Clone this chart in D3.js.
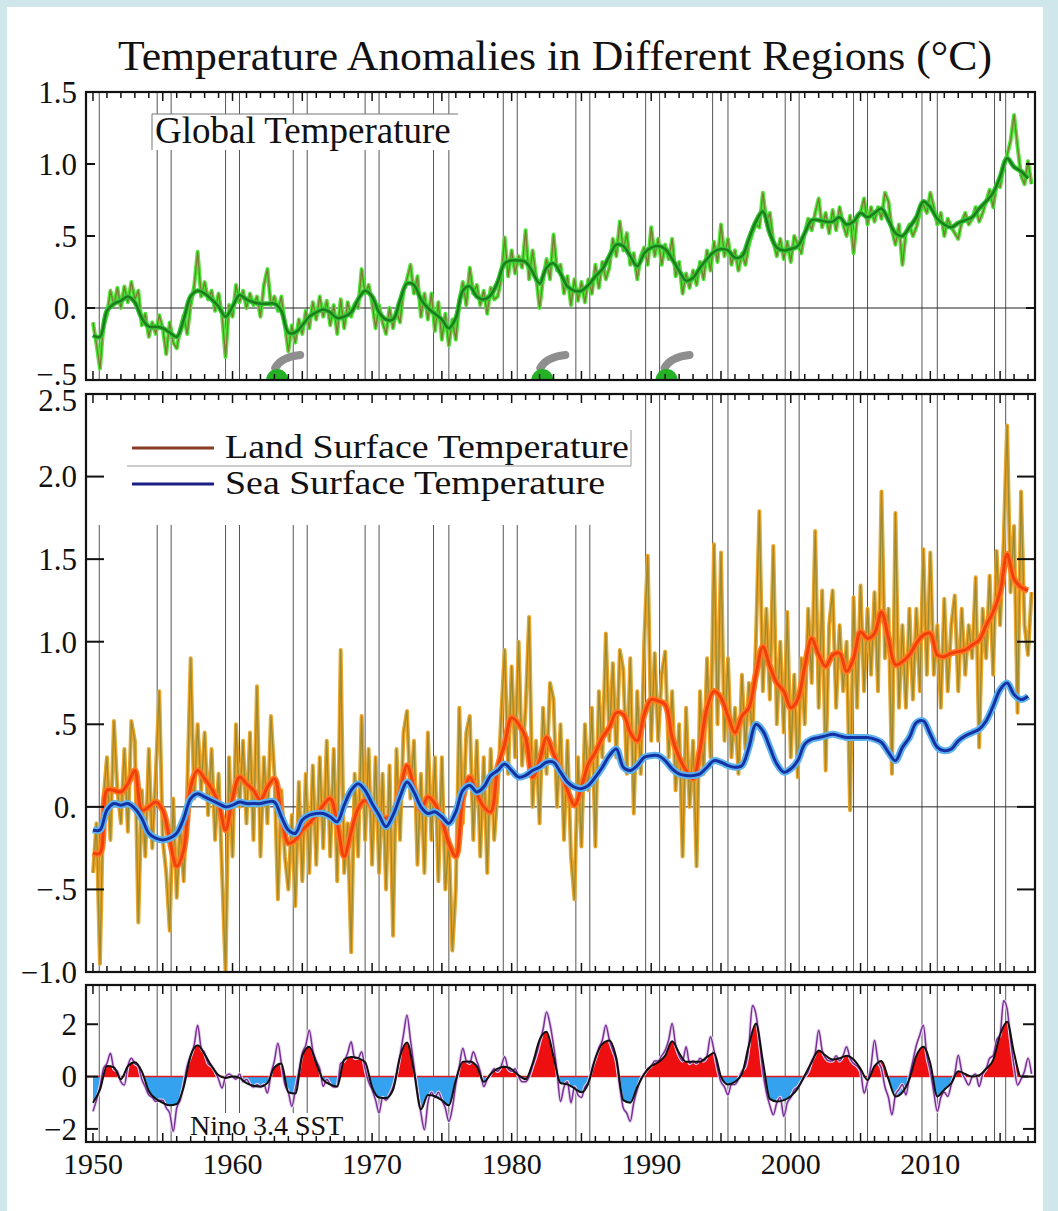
<!DOCTYPE html>
<html>
<head>
<meta charset="utf-8">
<script src="https://cdn.jsdelivr.net/npm/d3@7"></script>
<style>
  body { margin: 0; background: #cfe7ea; }
  svg { display: block; }
  text { font-family: "Liberation Serif", "Times New Roman", serif; fill: #111; }
</style>
</head>
<body>
<svg id="chart" width="1058" height="1211"></svg>
<script>
// ---- data ----
// global, quarterly (1950.00, 1950.25 ...)
var rawGlobal = [
 -0.10,-0.25,-0.42,-0.12,  -0.05,0.12,0.02,0.14,  0.00,0.15,0.04,0.18,  0.06,0.12,-0.12,-0.04,
 -0.20,-0.10,-0.18,-0.05,  -0.14,-0.32,-0.10,-0.24,  -0.28,-0.15,-0.05,-0.18,  0.02,0.15,0.39,0.08,
 0.18,0.06,0.12,-0.02,  0.10,-0.05,-0.34,0.02,  -0.06,0.16,0.04,0.12,  0.00,0.10,0.02,0.08,
 -0.06,0.16,0.27,0.02,  0.08,-0.02,0.08,-0.12,  -0.30,-0.12,-0.24,-0.08,  -0.18,-0.02,-0.14,0.04,
 -0.08,0.08,-0.06,0.05,  -0.12,0.02,-0.18,0.06,  -0.14,0.04,-0.06,0.03,  0.00,0.27,0.10,0.16,
 0.04,-0.14,0.02,-0.10,  -0.18,0.00,-0.14,-0.02,  -0.10,0.12,0.20,0.30,  0.10,0.22,-0.06,0.10,
 -0.08,0.10,-0.16,0.04,  -0.22,-0.04,-0.26,-0.08,  -0.22,0.04,0.18,0.02,  0.28,0.10,0.16,0.02,
 0.12,-0.04,0.14,0.06,  0.08,0.20,0.49,0.22,  0.40,0.24,0.36,0.28,  0.54,0.20,0.40,0.22,
 0.00,0.20,0.34,0.20,  0.51,0.26,0.30,0.10,  0.22,0.02,0.20,0.05,  0.18,0.04,0.20,0.10,
 0.30,0.14,0.32,0.20,  0.28,0.48,0.36,0.60,  0.40,0.52,0.30,0.38,  0.20,0.36,0.42,0.30,
 0.56,0.36,0.48,0.30,  0.44,0.34,0.48,0.22,  0.32,0.10,0.24,0.14,  0.26,0.16,0.32,0.20,
 0.40,0.26,0.46,0.32,  0.58,0.36,0.48,0.30,  0.40,0.26,0.38,0.30,  0.44,0.52,0.58,0.56,
 0.80,0.60,0.66,0.46,  0.36,0.48,0.34,0.46,  0.32,0.50,0.44,0.38,  0.52,0.62,0.54,0.66,
 0.76,0.56,0.66,0.52,  0.68,0.54,0.70,0.58,  0.50,0.64,0.38,0.62,  0.66,0.76,0.58,0.70,
 0.60,0.70,0.62,0.80,  0.74,0.54,0.44,0.58,  0.30,0.52,0.58,0.50,  0.56,0.66,0.72,0.66,
 0.80,0.70,0.58,0.66,  0.50,0.62,0.56,0.52,  0.48,0.60,0.66,0.58,  0.62,0.70,0.60,0.66,
 0.74,0.82,0.70,0.86,  0.84,0.98,1.06,1.16,  1.34,1.12,0.92,0.86,  1.02,0.86
];
// global, smoothed, half-yearly (1950.0, 1950.5 ...)
var smGlobal = [
 -0.19,-0.20,-0.02,0.03,0.05,0.08,0.04,-0.07,-0.13,-0.13,-0.14,-0.17,-0.20,-0.08,0.08,0.12,
 0.10,0.06,0.01,-0.06,0.01,0.09,0.06,0.04,0.03,0.03,0.03,-0.02,-0.17,-0.17,-0.12,-0.06,
 -0.03,-0.01,-0.03,-0.07,-0.06,-0.03,0.06,0.12,0.08,-0.03,-0.08,-0.08,0.05,0.17,0.16,0.06,
 0.00,-0.04,-0.08,-0.14,-0.07,0.12,0.15,0.08,0.06,0.09,0.18,0.31,0.33,0.33,0.32,0.25,
 0.17,0.28,0.31,0.24,0.15,0.12,0.12,0.16,0.22,0.27,0.36,0.44,0.43,0.36,0.29,0.38,
 0.42,0.43,0.41,0.34,0.26,0.19,0.21,0.28,0.34,0.39,0.41,0.40,0.35,0.36,0.48,0.60,
 0.67,0.52,0.42,0.40,0.41,0.43,0.52,0.61,0.61,0.60,0.60,0.63,0.58,0.60,0.66,0.63,
 0.66,0.69,0.61,0.52,0.50,0.56,0.63,0.74,0.70,0.62,0.58,0.56,0.59,0.61,0.63,0.69,
 0.74,0.80,0.91,1.04,0.98,0.95,0.90
];
// land, quarterly
var rawLand = [
 -0.40,-0.10,-0.95,0.05,  0.30,-0.20,0.52,0.10,  -0.10,0.35,-0.15,0.52,  0.40,-0.70,0.10,-0.30,
 0.35,-0.25,0.20,0.70,  -0.20,-0.40,-0.75,0.05,  -0.55,-0.10,-0.45,0.10,  0.90,0.05,0.50,0.10,
 0.45,-0.05,0.35,-0.20,  0.20,-0.40,-1.00,0.30,  -0.30,0.50,0.00,0.40,  -0.10,0.45,-0.20,0.73,
 -0.30,0.30,-0.10,0.55,  0.20,-0.56,0.10,-0.30,  -0.50,-0.05,-0.60,0.15,  -0.45,0.20,-0.40,0.25,
 -0.35,0.30,-0.25,0.40,  -0.30,0.35,-0.45,0.95,  -0.40,-0.10,-0.88,0.20,  -0.30,0.55,-0.20,0.35,
 -0.35,0.30,-0.40,0.20,  -0.50,0.25,-0.78,0.35,  -0.20,0.45,0.58,0.05,  0.40,-0.35,0.20,-0.40,
 0.45,-0.20,0.30,-0.45,  0.30,-0.50,-0.20,-0.87,  -0.50,0.60,-0.10,0.45,  0.55,-0.20,0.40,-0.30,
 0.30,-0.40,0.35,-0.20,  0.10,0.55,0.95,0.20,  0.85,0.30,1.00,0.25,  0.60,1.15,0.00,0.40,
 -0.10,0.60,0.20,0.75,  0.65,0.00,0.50,-0.20,  0.40,-0.30,-0.56,0.30,  -0.24,0.50,0.10,0.60,
 -0.24,0.70,0.30,1.05,  0.40,0.87,0.30,0.95,  0.83,0.20,0.90,-0.04,  0.70,0.20,1.00,1.52,
 0.40,0.93,0.40,0.80,  0.94,0.30,0.70,0.10,  0.50,-0.30,0.60,0.00,  0.40,-0.36,0.70,0.20,
 0.90,0.30,1.59,0.50,  1.54,0.40,0.90,0.30,  0.60,0.20,0.80,0.35,  0.75,0.40,1.00,1.79,
 0.70,1.20,0.65,1.58,  0.50,1.00,0.45,1.18,  0.30,0.80,0.18,0.90,  0.50,1.20,0.75,1.67,
 0.60,1.31,0.22,1.10,  1.31,0.60,1.10,0.70,  1.00,-0.02,1.27,0.60,  1.34,0.70,1.20,0.80,
 1.30,0.70,1.91,0.90,  1.20,0.20,1.78,0.60,  1.10,0.60,1.20,0.65,  1.20,0.70,1.56,0.80,
 1.54,0.80,1.10,0.60,  1.26,0.70,1.10,1.28,  0.70,1.20,0.80,1.10,  0.90,1.39,0.36,1.20,
 0.90,1.40,0.80,1.55,  1.10,1.60,2.31,1.30,  1.70,0.57,1.91,1.10,  0.92,1.30
];
// land, smoothed, half-yearly
var smLand = [
 -0.28,-0.28,0.10,0.10,0.09,0.14,0.22,-0.02,0.00,0.03,-0.02,-0.20,-0.36,-0.26,0.12,0.22,
 0.17,0.11,0.02,-0.14,0.05,0.18,0.14,0.10,0.04,0.12,0.17,-0.05,-0.22,-0.20,-0.14,-0.10,
 -0.05,0.01,0.05,-0.10,-0.30,-0.15,-0.01,0.04,0.00,-0.05,-0.07,-0.04,0.10,0.25,0.12,-0.02,
 0.06,0.02,-0.08,-0.22,-0.30,0.05,0.18,0.08,0.00,-0.03,0.24,0.38,0.54,0.50,0.42,0.18,
 0.28,0.42,0.32,0.22,0.10,0.01,0.12,0.26,0.33,0.42,0.48,0.57,0.56,0.45,0.40,0.56,
 0.65,0.64,0.62,0.42,0.30,0.22,0.17,0.35,0.60,0.70,0.66,0.55,0.45,0.55,0.60,0.80,
 0.97,0.85,0.75,0.70,0.60,0.65,0.85,1.02,0.92,0.85,0.92,0.93,0.82,0.90,1.06,1.02,
 1.05,1.18,1.02,0.86,0.88,0.92,0.99,1.04,1.05,0.92,0.91,0.93,0.94,0.95,0.98,1.01,
 1.10,1.18,1.30,1.53,1.38,1.33,1.31
];
// sea, smoothed, half-yearly
var smSea = [
 -0.14,-0.14,-0.02,0.02,0.01,0.02,-0.01,-0.07,-0.16,-0.19,-0.20,-0.19,-0.16,-0.07,0.05,0.08,
 0.06,0.04,0.02,0.00,0.01,0.03,0.02,0.02,0.02,0.03,0.03,-0.06,-0.14,-0.16,-0.08,-0.05,
 -0.04,-0.04,-0.06,-0.09,0.01,0.10,0.14,0.10,0.02,-0.05,-0.12,-0.05,0.06,0.15,0.09,0.00,
 -0.04,-0.03,-0.06,-0.10,-0.03,0.10,0.13,0.09,0.12,0.19,0.22,0.26,0.22,0.18,0.19,0.22,
 0.24,0.27,0.27,0.21,0.15,0.12,0.11,0.13,0.18,0.24,0.31,0.35,0.24,0.22,0.25,0.30,
 0.31,0.31,0.28,0.23,0.20,0.19,0.19,0.20,0.24,0.28,0.27,0.25,0.24,0.25,0.36,0.50,
 0.46,0.36,0.26,0.21,0.23,0.28,0.38,0.41,0.42,0.43,0.44,0.43,0.42,0.42,0.42,0.42,
 0.41,0.39,0.33,0.28,0.36,0.42,0.51,0.52,0.44,0.36,0.34,0.35,0.40,0.43,0.45,0.47,
 0.52,0.61,0.71,0.75,0.68,0.65,0.67
];
// nino 3.4, quarterly (purple)
var rawNino = [
 -1.33,-0.90,-0.40,0.30,  0.50,0.89,0.30,0.20,  -0.20,-0.32,0.40,0.70,  0.50,0.40,-0.10,-0.40,
 -0.70,-0.80,-0.95,-0.90,  -0.90,-1.20,-1.40,-2.09,  -1.20,-0.90,-0.30,0.40,  0.80,1.20,1.96,1.10,
 0.90,0.50,0.40,0.20,  -0.10,-0.44,0.00,0.10,  0.00,-0.10,0.10,-0.20,  -0.10,-0.30,-0.40,-0.30,
 -0.40,-0.30,-0.63,0.10,  0.60,1.27,0.50,-0.30,  -0.60,-1.14,-0.50,0.20,  0.90,1.20,1.77,1.00,
 0.60,0.30,-0.37,-0.10,  -0.30,-0.40,-0.37,0.50,  0.60,0.90,1.33,0.70,  0.70,0.95,0.30,-0.20,
 -0.50,-0.90,-1.39,-0.80,  -0.90,-0.70,-0.40,0.10,  0.80,1.60,2.34,1.40,  0.40,-0.60,-1.40,-2.03,
 -1.00,-0.60,-0.80,-0.60,  -0.90,-1.20,-1.71,-1.20,  -0.30,0.40,1.08,0.60,  0.50,0.95,0.60,0.20,
 -0.38,-0.10,0.10,0.30,  0.20,0.40,0.76,0.30,  0.20,0.30,0.00,-0.20,  -0.20,0.00,0.40,0.80,
 1.30,1.80,2.47,2.00,  1.20,0.20,-0.95,-0.40,  -0.20,-1.00,-0.40,-0.70,  -0.80,-0.40,-0.20,0.30,
 0.70,1.10,1.40,1.96,  1.40,1.00,0.60,-0.40,  -1.20,-1.40,-1.71,-1.00,  -0.50,-0.10,0.10,0.30,
 0.40,0.60,0.60,0.80,  1.00,1.40,2.03,1.20,  0.80,0.60,1.14,0.50,  0.60,0.50,0.70,0.60,
 0.80,1.52,1.00,0.30,  -0.20,-0.40,-0.70,-0.30,  -0.30,-0.10,0.20,0.40,  1.20,2.72,2.40,1.40,
 0.20,-0.60,-1.10,-1.46,  -1.00,-0.80,-1.52,-1.00,  -0.80,-0.50,-0.40,-0.20,  0.00,0.20,0.60,0.90,
 1.77,1.00,0.70,0.60,  0.60,0.80,0.60,0.80,  1.14,0.70,0.50,0.40,  0.20,-0.63,-0.20,0.40,
 1.39,0.60,0.30,-0.40,  -0.80,-1.46,-0.70,-0.50,  -0.30,-0.70,0.00,0.60,  1.20,1.60,1.96,0.80,
 0.20,-0.60,-1.33,-0.80,  -0.60,-0.76,-0.30,0.10,  0.82,0.20,-0.10,-0.32,  0.00,0.10,-0.38,0.10,
 0.30,0.70,0.80,1.40,  1.60,2.90,2.60,1.40,  0.40,-0.32,-0.10,0.20,  0.70,0.10
];
// nino 3.4, smoothed, half-yearly
var smNino = [
 -1.00,-0.50,0.40,0.35,-0.10,0.40,0.55,0.20,-0.55,-0.85,-1.00,-1.10,-1.05,-0.40,0.80,1.20,
 0.85,0.40,0.05,-0.05,0.00,-0.05,-0.25,-0.35,-0.38,-0.25,0.35,0.50,-0.60,-0.65,0.80,1.14,
 0.50,-0.13,-0.30,-0.38,0.65,0.75,0.70,0.55,-0.40,-0.80,-0.82,-0.51,0.76,1.30,0.20,-1.25,
 -0.70,-0.75,-0.90,-1.10,-0.13,0.57,0.58,0.40,-0.20,0.10,0.30,0.38,0.28,0.05,-0.10,0.50,
 1.40,1.71,0.76,-0.25,-0.30,-0.45,-0.60,-0.25,0.70,1.25,1.38,0.70,-0.90,-1.00,-0.40,0.10,
 0.40,0.55,0.80,1.35,0.90,0.57,0.57,0.57,0.75,0.90,0.00,-0.30,-0.20,0.10,1.20,2.03,
 0.60,-0.85,-0.95,-0.90,-0.75,-0.45,0.05,0.55,1.00,0.80,0.65,0.70,0.80,0.65,0.30,-0.13,
 0.40,0.60,-0.10,-0.76,-0.60,-0.10,0.80,1.14,0.50,-0.76,-0.50,-0.25,0.20,0.10,0.00,0.05,
 0.30,0.63,1.60,2.10,0.90,0.00,0.00
];
// thin vertical marker lines (years)
var markYears = [1950.45, 1954.6, 1955.6, 1959.5, 1960.5, 1964.35, 1965.35, 1969.5, 1970.5,
  1974.4, 1975.5, 1979.4, 1980.4, 1984.6, 1985.6, 1989.6, 1990.6, 1994.4, 1995.5,
  1999.6, 2000.6, 2004.5, 2005.5, 2009.4, 2010.5, 2014.6, 2015.4];
// eruptions drawn on the global panel
var volcanoYears = [1963.2, 1982.2, 1991.1];
var xTickYears = [1950, 1960, 1970, 1980, 1990, 2000, 2010];
var topTicks = [1.5, 1.0, 0.5, 0, -0.5];
var topLabels = ["1.5", "1.0", ".5", "0.", "\u2212.5"];
var midTicks = [2.5, 2.0, 1.5, 1.0, 0.5, 0, -0.5, -1.0];
var midLabels = ["2.5", "2.0", "1.5", "1.0", ".5", "0.", "\u2212.5", "\u22121.0"];
var botTicks = [2, 0, -2];
var botLabels = ["2", "0", "\u22122"];

// ---- setup ----
var svg = d3.select("#chart");
var x = d3.scaleLinear().domain([1949.5, 2017.5]).range([86, 1035]);
var yTop = d3.scaleLinear().domain([-0.5, 1.5]).range([380, 92]);
var yMid = d3.scaleLinear().domain([-1.0, 2.5]).range([972, 394]);
var yBot = d3.scaleLinear().domain([-2.5, 3.5]).range([1142, 985]);

function quarterly(vals){ return vals.map(function(v,i){ return {t: 1950 + i*0.25, v: v}; }); }
function halfyear(vals){ return vals.map(function(v,i){ return {t: 1950 + i*0.5, v: v}; }); }

svg.append("rect").attr("x",7).attr("y",7).attr("width",1036).attr("height",1204).attr("fill","#fff");

var defs = svg.append("defs");
function add_clip(id, y0, y1){
    defs.append("clipPath").attr("id", id).append("rect")
        .attr("x", x.range()[0]).attr("y", y0)
        .attr("width", x.range()[1]-x.range()[0]).attr("height", y1-y0);
}
add_clip("clipTop", yTop.range()[1], yTop.range()[0]);
add_clip("clipMid", yMid.range()[1], yMid.range()[0]);
add_clip("clipBot", yBot.range()[1], yBot.range()[0]);
add_clip("clipPos", yBot.range()[1], yBot(0));
add_clip("clipNeg", yBot(0), yBot.range()[0]);

svg.append("text").attr("x",555).attr("y",70).attr("text-anchor","middle")
    .attr("font-size",42).attr("textLength",874).attr("lengthAdjust","spacingAndGlyphs")
    .text("Temperature Anomalies in Different Regions (\u00b0C)");

function draw_marks(g, y, startFn){
    g.selectAll(".mark").data(markYears).enter().append("line")
        .attr("class","mark")
        .attr("x1", function(d){ return x(d); }).attr("x2", function(d){ return x(d); })
        .attr("y1", function(d){ return startFn(x(d)); }).attr("y2", y.range()[0])
        .attr("stroke","#555").attr("stroke-width",1);
}

function draw_line(g, data, y, color, width, curve){
    var line = d3.line().x(function(d){ return x(d.t); }).y(function(d){ return y(d.v); })
        .curve(curve || d3.curveLinear);
    g.append("path").datum(data).attr("d", line)
        .attr("fill","none").attr("stroke", color).attr("stroke-width", width)
        .attr("stroke-linejoin","round");
}

function draw_frame(y, ticks, labels, tickLen, shift){
    var g = svg.append("g");
    var y0 = y.range()[1], y1 = y.range()[0];
    var years = d3.range(1950, 2018);
    [y0, y1].forEach(function(edge){
        var dir = edge == y0 ? 1 : -1;
        g.selectAll(null).data(years).enter().append("line")
            .attr("x1", function(d){ return x(d); }).attr("x2", function(d){ return x(d); })
            .attr("y1", edge).attr("y2", function(d){ return edge + dir*(d%5==0 ? 9 : 6); })
            .attr("stroke","#111").attr("stroke-width",1.5);
    });
    g.selectAll(null).data(ticks).enter().append("line")
        .attr("x1", x.range()[0]).attr("x2", x.range()[0]+tickLen)
        .attr("y1", function(d){ return y(d); }).attr("y2", function(d){ return y(d); })
        .attr("stroke","#111").attr("stroke-width",2);
    g.selectAll(null).data(ticks).enter().append("line")
        .attr("x1", x.range()[1]).attr("x2", x.range()[1]-tickLen)
        .attr("y1", function(d){ return y(d); }).attr("y2", function(d){ return y(d); })
        .attr("stroke","#111").attr("stroke-width",2);
    g.selectAll(null).data(ticks).enter().append("text")
        .attr("x", 77).attr("y", function(d,i){ return y(d) + (shift ? shift[i] : 0); })
        .attr("dy","0.35em").attr("text-anchor","end").attr("font-size",31)
        .text(function(d,i){ return labels[i]; });
    g.append("rect").attr("x", x.range()[0]).attr("y", y0)
        .attr("width", x.range()[1]-x.range()[0]).attr("height", y1-y0)
        .attr("fill","none").attr("stroke","#111").attr("stroke-width",2.2);
}

// ---- global panel ----
var gTop = svg.append("g").attr("clip-path","url(#clipTop)");
draw_marks(gTop, yTop, function(){ return yTop.range()[1]; });
gTop.append("line").attr("x1",x.range()[0]).attr("x2",x.range()[1])
    .attr("y1",yTop(0)).attr("y2",yTop(0)).attr("stroke","#222").attr("stroke-width",1);
draw_line(gTop, quarterly(rawGlobal), yTop, "#4fe63a", 4);
draw_line(gTop, quarterly(rawGlobal), yTop, "#7d7a34", 1.3);
draw_line(gTop, halfyear(smGlobal), yTop, "#35c835", 5, d3.curveCatmullRom);
draw_line(gTop, halfyear(smGlobal), yTop, "#1d7d1d", 2.5, d3.curveCatmullRom);

var gVol = gTop.selectAll(".volc").data(volcanoYears).enter().append("g")
    .attr("transform", function(d){ return "translate(" + x(d) + "," + yTop.range()[0] + ")"; });
gVol.append("path").attr("d","M-2,-12 Q4,-23 23,-25").attr("fill","none")
    .attr("stroke","#8e8e8e").attr("stroke-width",8).attr("stroke-linecap","round");
gVol.append("path").attr("d", d3.arc()({innerRadius:0, outerRadius:11, startAngle:-Math.PI/2, endAngle:Math.PI/2}))
    .attr("fill","#25b025");

svg.append("rect").attr("x",152).attr("y",114).attr("width",306).attr("height",36).attr("fill","#fff");
svg.append("path").attr("d","M152,150 V114 H458").attr("fill","none").attr("stroke","#777").attr("stroke-width",1);
svg.append("text").attr("x",155).attr("y",143).attr("font-size",37).text("Global Temperature");
draw_frame(yTop, topTicks, topLabels, 9, [0,0,0,0,-6]);

// ---- land / sea panel ----
var gMid = svg.append("g").attr("clip-path","url(#clipMid)");
draw_marks(gMid, yMid, function(px){ return px < 632 ? 525 : yMid.range()[1]; });
gMid.append("line").attr("x1",x.range()[0]).attr("x2",x.range()[1])
    .attr("y1",yMid(0)).attr("y2",yMid(0)).attr("stroke","#222").attr("stroke-width",1);
draw_line(gMid, quarterly(rawLand), yMid, "#eaa52a", 4);
draw_line(gMid, quarterly(rawLand), yMid, "#9b8a34", 1.3);
draw_line(gMid, halfyear(smLand), yMid, "#ff7a1e", 6.5, d3.curveCatmullRom);
draw_line(gMid, halfyear(smLand), yMid, "#f0400e", 3, d3.curveCatmullRom);
draw_line(gMid, halfyear(smSea), yMid, "#5fb2f0", 7, d3.curveCatmullRom);
draw_line(gMid, halfyear(smSea), yMid, "#1532a2", 3, d3.curveCatmullRom);

var legend = [
    {label: "Land Surface Temperature", color: "#8a3d26", y: 448, w: 404},
    {label: "Sea Surface Temperature", color: "#1a1f86", y: 484, w: 380}
];
var gLeg = svg.append("g");
gLeg.selectAll("line").data(legend).enter().append("line")
    .attr("x1",132).attr("x2",214).attr("y1",function(d){ return d.y; }).attr("y2",function(d){ return d.y; })
    .attr("stroke",function(d){ return d.color; }).attr("stroke-width",3);
gLeg.selectAll("text").data(legend).enter().append("text")
    .attr("x",225).attr("y",function(d){ return d.y + 10; }).attr("font-size",34)
    .attr("textLength",function(d){ return d.w; }).attr("lengthAdjust","spacingAndGlyphs")
    .text(function(d){ return d.label; });
gLeg.append("path").attr("d","M127,466 H631 V430").attr("fill","none").attr("stroke","#999").attr("stroke-width",1);
draw_frame(yMid, midTicks, midLabels, 18, [6,0,0,0,0,0,0,0]);

// ---- nino panel ----
var gBot = svg.append("g").attr("clip-path","url(#clipBot)");
draw_marks(gBot, yBot, function(){ return yBot.range()[1]; });
var area = d3.area().x(function(d){ return x(d.t); }).y0(yBot(0)).y1(function(d){ return yBot(d.v); })
    .curve(d3.curveMonotoneX);
gBot.append("path").datum(halfyear(smNino)).attr("d", area).attr("fill","#ee1010").attr("clip-path","url(#clipPos)");
gBot.append("path").datum(halfyear(smNino)).attr("d", area).attr("fill","#34a2ee").attr("clip-path","url(#clipNeg)");
gBot.append("line").attr("x1",x.range()[0]).attr("x2",x.range()[1])
    .attr("y1",yBot(0)).attr("y2",yBot(0)).attr("stroke","#e01818").attr("stroke-width",1.5);
draw_line(gBot, quarterly(rawNino), yBot, "#e6d8ee", 3.5, d3.curveMonotoneX);
draw_line(gBot, quarterly(rawNino), yBot, "#7a2e96", 1.5, d3.curveMonotoneX);
draw_line(gBot, halfyear(smNino), yBot, "#111", 2, d3.curveMonotoneX);

svg.append("rect").attr("x",186).attr("y",1113).attr("width",172).attr("height",28).attr("fill","#fff");
svg.append("text").attr("x",190).attr("y",1135).attr("font-size",28).text("Nino 3.4 SST");
draw_frame(yBot, botTicks, botLabels, 12);

svg.append("g").selectAll("text").data(xTickYears).enter().append("text")
    .attr("x", function(d){ return x(d); }).attr("y", 1174).attr("text-anchor","middle")
    .attr("font-size",30).text(function(d){ return d; });
</script>
</body>
</html>
